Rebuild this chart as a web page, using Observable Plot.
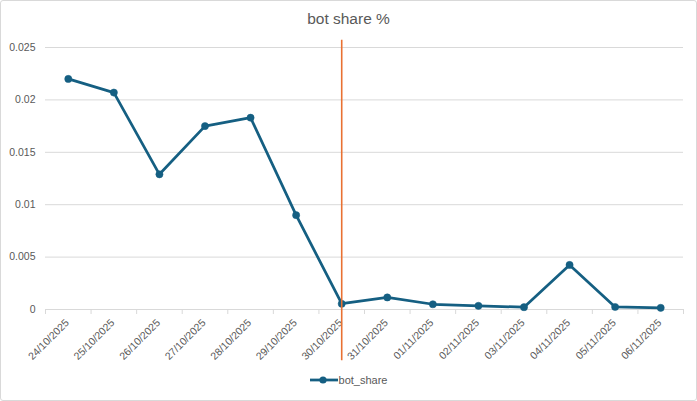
<!DOCTYPE html>
<html>
<head>
<meta charset="utf-8">
<script src="https://cdn.jsdelivr.net/npm/d3@7"></script>
<script src="https://cdn.jsdelivr.net/npm/@observablehq/plot@0.6"></script>
<style>
  html, body { margin: 0; padding: 0; background: #fff; }
  #wrap { position: relative; width: 697px; height: 401px; overflow: hidden; font-family: "Liberation Sans", Arial, sans-serif; }
  #frame { position: absolute; left: 0; top: 0; width: 695px; height: 399px; border: 1px solid #d9d9d9; border-radius: 3px; pointer-events: none; }
  #title { position: absolute; left: 0; top: 9px; width: 697px; text-align: center; font-size: 15.5px; color: #595959; line-height: 20px; }
  #chart { position: absolute; left: 0; top: 36px; }
  #legend { position: absolute; left: 0; top: 374px; width: 697px; display: flex; justify-content: center; align-items: center; font-size: 11px; color: #595959; }
  #legend svg { margin-right: 1px; }
</style>
</head>
<body>
<div id="wrap">
  <div id="title">bot share %</div>
  <div id="chart"></div>
  <div id="legend"></div>
  <div id="frame"></div>
</div>
<script>
const dates = ["24/10/2025","25/10/2025","26/10/2025","27/10/2025","28/10/2025","29/10/2025","30/10/2025",
               "31/10/2025","01/11/2025","02/11/2025","03/11/2025","04/11/2025","05/11/2025","06/11/2025"];
const botShare = [0.0220, 0.0207, 0.0129, 0.0175, 0.0183, 0.0090, 0.00055,
                  0.00115, 0.0005, 0.00035, 0.00022, 0.00425, 0.00024, 0.00016];
const yTicks = [0, 0.005, 0.01, 0.015, 0.02, 0.025];
const markerDate = "30/10/2025";
const markerSpan = [-0.0049, 0.0257];
const seriesName = "bot_share";

const rows = dates.map((d, i) => ({date: d, value: botShare[i]}));

const W = 697, H = 330, mL = 45, mR = 14, mT = 11, mB = 57;
const half = (W - mL - mR) / dates.length / 2;
const blue = "#155f82", orange = "#e97132", grey = "#595959";

const chart = Plot.plot({
  width: W, height: H,
  marginLeft: mL, marginRight: mR, marginTop: mT, marginBottom: mB,
  style: {fontFamily: "'Liberation Sans', Arial, sans-serif", background: "transparent", overflow: "visible"},
  x: {type: "band", domain: dates, padding: 0, round: false, axis: null},
  y: {domain: [0, 0.025], axis: null},
  marks: [
    Plot.ruleY(yTicks, {stroke: "#d9d9d9", strokeWidth: 1}),
    Plot.ruleX(dates, {x: d => d, y1: 0, y2: 0, insetBottom: -5, dx: -half, stroke: "#d9d9d9"}),
    Plot.ruleX([dates[dates.length - 1]], {x: d => d, y1: 0, y2: 0, insetBottom: -5, dx: half, stroke: "#d9d9d9"}),
    Plot.text(yTicks, {x: null, y: d => d, text: d => String(d), frameAnchor: "left", textAnchor: "end", dx: -10, fontSize: 10.5, fill: grey}),
    Plot.text(dates, {x: d => d, y: 0, text: d => d, rotate: -45, textAnchor: "end", dx: -1, dy: 11.5, fontSize: 10.5, fill: grey}),
    Plot.line(rows, {x: "date", y: "value", stroke: blue, strokeWidth: 2.75, strokeLinejoin: "round"}),
    Plot.dot(rows, {x: "date", y: "value", r: 3.6, fill: blue, stroke: blue, strokeWidth: 0.5}),
    Plot.ruleX([markerDate], {x: d => d, y1: markerSpan[0], y2: markerSpan[1], stroke: orange, strokeWidth: 1.6})
  ]
});
document.getElementById("chart").appendChild(chart);

const legend = document.getElementById("legend");
legend.innerHTML = `<svg width="28" height="10"><line x1="0" y1="5" x2="28" y2="5" stroke="${blue}" stroke-width="2.75"/><circle cx="13" cy="5" r="3.6" fill="${blue}"/></svg><span>${seriesName}</span>`;
</script>
</body>
</html>
